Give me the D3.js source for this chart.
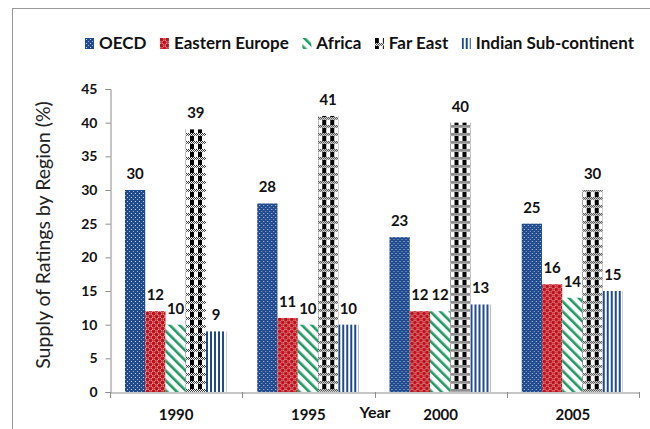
<!DOCTYPE html>
<html>
<head>
<meta charset="utf-8">
<script src="https://cdn.jsdelivr.net/npm/d3@7"></script>
<style>
  html, body { margin: 0; padding: 0; background: #fff; }
  svg { display: block; font-family: Lato, "Open Sans", sans-serif; }
</style>
</head>
<body>
<svg id="chart" width="650" height="429"></svg>
<script>
// Supply of ratings by region, percent of total, per year
const years = ["1990", "1995", "2000", "2005"];
const regions = ["OECD", "Eastern Europe", "Africa", "Far East", "Indian Sub-continent"];
const oecd          = [30, 28, 23, 25];
const easternEurope = [12, 11, 12, 16];
const africa        = [10, 10, 12, 14];
const farEast       = [39, 41, 40, 30];
const indianSub     = [9, 10, 13, 15];
const yTicks = [0, 5, 10, 15, 20, 25, 30, 35, 40, 45];

const seriesValues = [oecd, easternEurope, africa, farEast, indianSub];
const patternIds = ["pOecd", "pEast", "pAfrica", "pFar", "pIndian"];

const svg = d3.select("#chart");
const defs = svg.append("defs");

// --- fill patterns ---
const blue = "#1f4b8e", red = "#bf1020", green = "#1f9a62";

let p = defs.append("pattern").attr("id", "pOecd").attr("patternUnits", "userSpaceOnUse")
  .attr("width", 4).attr("height", 4);
p.append("rect").attr("width", 4).attr("height", 4).attr("fill", blue);
p.append("rect").attr("x", 1).attr("y", 1).attr("width", 1).attr("height", 1).attr("fill", "#cfd8ea");
p.append("rect").attr("x", 3).attr("y", 3).attr("width", 1).attr("height", 1).attr("fill", "#9fb2d4");

p = defs.append("pattern").attr("id", "pEast").attr("patternUnits", "userSpaceOnUse")
  .attr("width", 6).attr("height", 6);
p.append("rect").attr("width", 6).attr("height", 6).attr("fill", "#f6dada");
[[1.5, 1.5], [4.5, 4.5]].forEach(([cx, cy]) =>
  p.append("circle").attr("cx", cx).attr("cy", cy).attr("r", 1.9).attr("fill", red));
[[4.5, 1.5], [1.5, 4.5]].forEach(([cx, cy]) =>
  p.append("circle").attr("cx", cx).attr("cy", cy).attr("r", 1.4).attr("fill", "#c83a3a"));

p = defs.append("pattern").attr("id", "pAfrica").attr("patternUnits", "userSpaceOnUse")
  .attr("width", 7).attr("height", 7).attr("patternTransform", "rotate(-45)");
p.append("rect").attr("width", 7).attr("height", 7).attr("fill", "#fff");
p.append("rect").attr("x", 0).attr("y", 0).attr("width", 2.6).attr("height", 7).attr("fill", green);

p = defs.append("pattern").attr("id", "pFar").attr("patternUnits", "userSpaceOnUse")
  .attr("width", 8).attr("height", 8);
p.append("rect").attr("width", 8).attr("height", 8).attr("fill", "#fff");
p.append("rect").attr("x", 0).attr("y", 0).attr("width", 4).attr("height", 5).attr("fill", "#000");
for (let i = 0; i < 8; i += 2) {
  p.append("rect").attr("x", i).attr("y", 5).attr("width", 1).attr("height", 1).attr("fill", "#222");
  p.append("rect").attr("x", i + 1).attr("y", 6).attr("width", 1).attr("height", 1).attr("fill", "#222");
  p.append("rect").attr("x", i).attr("y", 7).attr("width", 1).attr("height", 1).attr("fill", "#555");
}

p = defs.append("pattern").attr("id", "pIndian").attr("patternUnits", "userSpaceOnUse")
  .attr("width", 4).attr("height", 4);
p.append("rect").attr("width", 4).attr("height", 4).attr("fill", "#fff");
p.append("rect").attr("x", 0).attr("y", 0).attr("width", 2).attr("height", 4).attr("fill", blue);

// --- frame ---
svg.append("rect").attr("x", 12.5).attr("y", 8.5).attr("width", 660).attr("height", 440)
  .attr("fill", "none").attr("stroke", "#9a9a9a").attr("stroke-width", 1);

// --- scales ---
const x0 = d3.scaleBand().domain(years).range([110, 639]).padding(0);
const x1 = d3.scaleBand().domain(regions).range([15, x0.bandwidth() - 16]).padding(0);
const y = d3.scaleLinear().domain([0, 45]).range([392, 89]);

// --- axes ---
const yAxis = svg.append("g").attr("transform", "translate(110.5,0)")
  .call(d3.axisLeft(y).tickValues(yTicks).tickSize(5).tickPadding(8));
yAxis.select(".domain").attr("stroke", "#8c8c8c");
yAxis.selectAll(".tick line").attr("stroke", "#8c8c8c");
yAxis.selectAll(".tick text").attr("font-family", "Lato, sans-serif")
  .attr("font-size", 14).attr("font-weight", "bold").attr("fill", "#111");

const xAxis = svg.append("g").attr("transform", "translate(0,392.5)")
  .call(d3.axisBottom(x0).tickSize(0).tickFormat(""));
xAxis.select(".domain").attr("stroke", "#8c8c8c");
// group separator ticks
const sepX = years.map(yv => x0(yv)).concat([x0.range()[1]]);
svg.append("g").selectAll("line").data(sepX).join("line")
  .attr("x1", d => Math.round(d) + 0.5).attr("x2", d => Math.round(d) + 0.5)
  .attr("y1", 392).attr("y2", 398).attr("stroke", "#8c8c8c");

svg.append("g").selectAll("text").data(years).join("text")
  .attr("x", d => x0(d) + x0.bandwidth() / 2).attr("y", 420)
  .attr("text-anchor", "middle").attr("font-size", 15).attr("font-weight", "bold")
  .attr("fill", "#111").text(d => d);

svg.append("text").attr("x", 375).attr("y", 418).attr("text-anchor", "middle")
  .attr("font-size", 16).attr("font-weight", "bold").attr("fill", "#111").text("Year");

svg.append("text").attr("transform", "translate(50,235) rotate(-90)")
  .attr("text-anchor", "middle").attr("font-size", 19.5).attr("fill", "#222")
  .text("Supply of Ratings by Region (%)");

// --- bars ---
const groups = svg.append("g").selectAll("g").data(years).join("g")
  .attr("transform", d => `translate(${x0(d)},0)`);

groups.each(function (yr, yi) {
  const g = d3.select(this);
  regions.forEach((r, ri) => {
    const v = seriesValues[ri][yi];
    g.append("rect")
      .attr("x", x1(r)).attr("y", y(v))
      .attr("width", x1.bandwidth()).attr("height", y(0) - y(v))
      .attr("fill", `url(#${patternIds[ri]})`);
  });
});

// value labels (drawn after bars so they sit on top)
groups.each(function (yr, yi) {
  const g = d3.select(this);
  regions.forEach((r, ri) => {
    const v = seriesValues[ri][yi];
    g.append("text")
      .attr("x", x1(r) + x1.bandwidth() / 2).attr("y", y(v) - 11)
      .attr("text-anchor", "middle").attr("font-size", 15).attr("font-weight", "bold")
      .attr("fill", "#111").text(v);
  });
});

// --- legend: items laid out in a row, spread between legendLeft and legendRight ---
const legendLeft = 85, legendRight = 634, swatchW = 9, swatchGap = 5;
const legend = svg.append("g").selectAll("g").data(regions).join("g");
legend.append("rect").attr("width", swatchW).attr("height", 11)
  .attr("fill", (d, i) => `url(#${patternIds[i]})`);
const legendText = legend.append("text").attr("x", swatchW + swatchGap).attr("y", 11)
  .attr("font-size", 17).attr("font-weight", "bold").attr("fill", "#111").text(d => d);
const itemW = legendText.nodes().map(n => swatchW + swatchGap + n.getComputedTextLength());
const spacing = (legendRight - legendLeft - d3.sum(itemW)) / (regions.length - 1);
let cursor = legendLeft;
legend.each(function (d, i) {
  d3.select(this).attr("transform", `translate(${cursor},38)`);
  cursor += itemW[i] + spacing;
});
</script>
</body>
</html>
